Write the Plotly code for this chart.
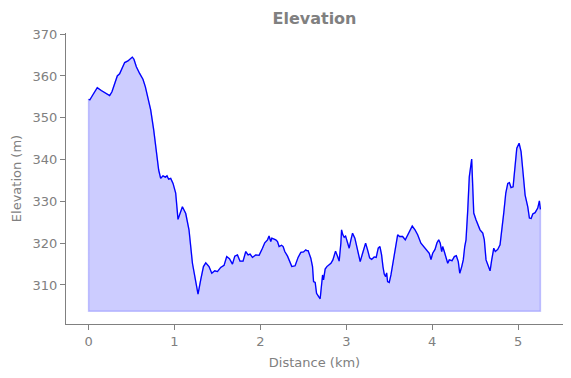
import plotly.graph_objects as go

distance_km = [
    0.000, 0.015, 0.050, 0.101, 0.148, 0.195, 0.245, 0.272, 0.311, 0.334,
    0.361, 0.388, 0.420, 0.458, 0.486, 0.509, 0.528, 0.556, 0.594, 0.633,
    0.661, 0.691, 0.723, 0.758, 0.789, 0.816, 0.839, 0.866, 0.894, 0.913,
    0.932, 0.956, 0.983, 1.002, 1.014, 1.041, 1.092, 1.131, 1.169, 1.209,
    1.247, 1.274, 1.305, 1.337, 1.364, 1.402, 1.434, 1.469, 1.500, 1.538,
    1.577, 1.608, 1.640, 1.675, 1.702, 1.733, 1.763, 1.798, 1.830, 1.857,
    1.880, 1.908, 1.946, 1.985, 2.024, 2.051, 2.083, 2.101, 2.121, 2.133,
    2.179, 2.199, 2.218, 2.246, 2.265, 2.284, 2.316, 2.346, 2.366, 2.404,
    2.439, 2.471, 2.502, 2.529, 2.541, 2.556, 2.567, 2.579, 2.587, 2.607,
    2.619, 2.638, 2.654, 2.673, 2.696, 2.712, 2.724, 2.735, 2.754, 2.774,
    2.794, 2.821, 2.844, 2.875, 2.899, 2.917, 2.937, 2.945, 2.960, 2.976,
    2.992, 3.015, 3.034, 3.054, 3.073, 3.100, 3.124, 3.143, 3.162, 3.190,
    3.225, 3.248, 3.272, 3.295, 3.325, 3.348, 3.372, 3.392, 3.411, 3.427,
    3.442, 3.458, 3.470, 3.481, 3.500, 3.520, 3.547, 3.570, 3.598, 3.621,
    3.656, 3.687, 3.715, 3.745, 3.768, 3.800, 3.831, 3.869, 3.901, 3.936,
    3.966, 3.986, 4.006, 4.033, 4.056, 4.076, 4.094, 4.111, 4.122, 4.141,
    4.161, 4.181, 4.199, 4.231, 4.258, 4.281, 4.304, 4.321, 4.344, 4.362,
    4.379, 4.394, 4.414, 4.432, 4.460, 4.472, 4.484, 4.510, 4.537, 4.557,
    4.589, 4.607, 4.627, 4.647, 4.674, 4.693, 4.717, 4.735, 4.763, 4.790,
    4.814, 4.833, 4.857, 4.880, 4.899, 4.918, 4.942, 4.962, 4.985, 5.012,
    5.035, 5.055, 5.082, 5.113, 5.132, 5.152, 5.171, 5.198, 5.229, 5.248,
    5.260,
]

elevation_m = [
    354.4, 354.3, 355.5, 357.2, 356.5, 355.9, 355.3, 356.2, 358.6, 360.0,
    360.5, 361.8, 363.2, 363.6, 364.2, 364.5, 364.0, 362.2, 360.6, 359.2,
    357.4, 355.0, 351.9, 347.1, 342.3, 337.5, 335.5, 336.1, 335.8, 336.1,
    335.3, 335.5, 334.3, 332.7, 332.0, 325.7, 328.7, 327.1, 323.2, 315.2,
    310.4, 307.8, 311.2, 314.4, 315.3, 314.4, 312.8, 313.4, 313.2, 314.2,
    314.7, 316.8, 316.3, 315.0, 316.9, 317.2, 315.7, 315.7, 318.0, 317.2,
    317.4, 316.6, 317.2, 317.1, 318.8, 320.1, 320.8, 321.7, 320.4, 321.2,
    320.8, 320.4, 319.2, 319.5, 319.2, 318.0, 316.9, 315.6, 314.4, 314.6,
    316.6, 317.8, 317.9, 318.4, 318.2, 318.2, 317.6, 317.2, 316.4, 314.4,
    310.8, 310.6, 308.0, 307.4, 306.7, 310.0, 312.4, 311.2, 313.8, 314.4,
    314.8, 315.2, 316.0, 318.1, 316.8, 315.7, 320.0, 323.2, 322.0, 321.4,
    321.7, 320.1, 318.8, 320.8, 322.4, 321.2, 319.2, 317.2, 315.6, 317.6,
    320.0, 318.4, 316.5, 316.1, 316.7, 316.6, 318.8, 319.2, 317.2, 314.4,
    312.6, 312.0, 312.9, 310.8, 310.6, 312.4, 315.6, 319.2, 322.0, 321.6,
    321.6, 320.8, 322.0, 323.2, 324.1, 323.2, 322.0, 320.0, 319.2, 318.4,
    317.6, 316.1, 317.6, 318.5, 320.1, 320.8, 320.0, 318.0, 319.2, 318.0,
    316.8, 315.2, 316.0, 315.8, 316.8, 317.0, 315.6, 312.8, 314.4, 316.0,
    319.2, 320.8, 327.9, 335.9, 340.1, 335.1, 327.2, 325.6, 324.4, 323.2,
    322.4, 320.8, 316.0, 314.8, 313.4, 316.0, 318.8, 318.0, 318.5, 319.6,
    323.2, 327.2, 332.0, 334.3, 334.5, 333.3, 333.5, 338.3, 342.7, 343.9,
    341.9, 337.5, 331.5, 328.7, 326.0, 325.9, 327.0, 327.3, 328.4, 330.1,
    328.1,
]

fill_base_m = 303.7
x_ticks = [0, 1, 2, 3, 4, 5]
y_ticks = [310, 320, 330, 340, 350, 360, 370]

gray = "#808080"
font_family = "DejaVu Sans"

poly_x = distance_km + [distance_km[-1], distance_km[0], distance_km[0]]
poly_y = elevation_m + [fill_base_m, fill_base_m, elevation_m[0]]

fig = go.Figure()
fig.add_trace(go.Scatter(
    x=poly_x, y=poly_y, mode="lines", fill="toself",
    fillcolor="rgba(0,0,255,0.2)",
    line=dict(color="rgba(0,0,255,0.2)", width=1.5),
    hoverinfo="skip", showlegend=False,
))
fig.add_trace(go.Scatter(
    x=distance_km, y=elevation_m, mode="lines",
    line=dict(color="blue", width=1.3),
    showlegend=False,
))

axis_common = dict(
    showgrid=False, zeroline=False, showline=True, linecolor=gray, linewidth=1,
    ticks="outside", ticklen=5, tickwidth=1, tickcolor=gray,
    tickfont=dict(family=font_family, size=13, color=gray),
    mirror=False, automargin=False,
)

# page body has an 8px default margin, so the figure is 8px smaller each way
fig.update_layout(
    width=563, height=370,
    margin=dict(l=58, r=8, t=25, b=54, autoexpand=False),
    paper_bgcolor="white", plot_bgcolor="white",
    title=dict(text="<b>Elevation</b>", x=0.5, xref="paper", xanchor="center",
               y=1 - 10 / 370, yref="container", yanchor="middle",
               font=dict(family=font_family, size=16, color=gray)),
    xaxis=dict(range=[-0.263, 5.523], tickvals=x_ticks,
               title=dict(text="Distance (km)", font=dict(family=font_family, size=13, color=gray), standoff=10),
               **axis_common),
    yaxis=dict(range=[300.67, 370.27], tickvals=y_ticks,
               title=dict(text="Elevation (m)", font=dict(family=font_family, size=13, color=gray), standoff=8),
               **axis_common),
)

fig.write_html("out.html")
